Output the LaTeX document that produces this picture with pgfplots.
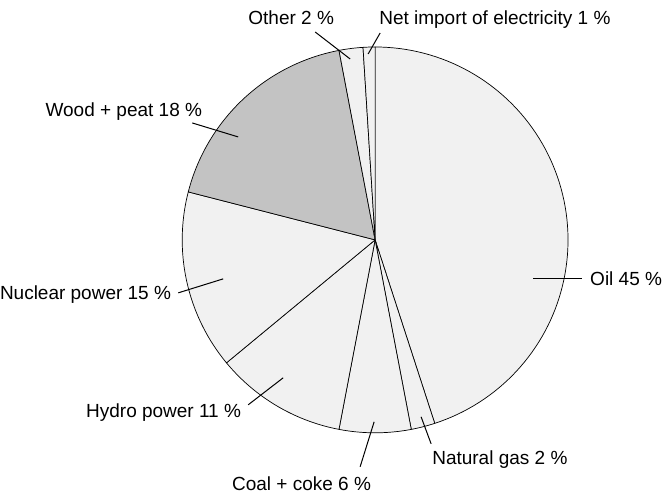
\documentclass[border=0pt]{standalone}
\usepackage{pgfplots}
\pgfplotsset{compat=1.18}
\usepackage{fontspec}
\setmainfont{Liberation Sans}
\definecolor{lite}{HTML}{F1F1F1}
\definecolor{wood}{HTML}{C3C3C3}
% slice: {cumulative start %}{value %}{fill}
\newcommand{\slice}[3]{%
  \pgfmathsetmacro{\aA}{90-3.6*(#1+#2)}%
  \pgfmathsetmacro{\aB}{90-3.6*(#1)}%
  \addplot[draw=black, line width=0.7pt, fill=#3, domain=\aA:\aB, samples=90]
    ({375+193*cos(x)},{257+193*sin(x)}) -- (axis cs:375,257) -- cycle;
}
\tikzset{lab/.style={font=\fontsize{19}{22}\selectfont, inner sep=0pt}}
\begin{document}
\begin{tikzpicture}
\begin{axis}[
  width=665pt, height=497pt, scale only axis,
  xmin=0, xmax=665, ymin=0, ymax=497,
  hide axis, clip=false,
]
\path (axis cs:0,0) (axis cs:665,497);
\slice{0}{45}{lite}   % Oil
\slice{45}{2}{lite}   % Natural gas
\slice{47}{6}{lite}   % Coal + coke
\slice{53}{11}{lite}  % Hydro power
\slice{64}{15}{lite}  % Nuclear power
\slice{79}{18}{wood}  % Wood + peat
\slice{97}{2}{lite}   % Other
\slice{99}{1}{lite}   % Net import
% leader lines
\draw[line width=1pt] (axis cs:533,218) -- (axis cs:582,218);
\draw[line width=1pt] (axis cs:421,80) -- (axis cs:431,53);
\draw[line width=1pt] (axis cs:374,75) -- (axis cs:360,30);
\draw[line width=1pt] (axis cs:283,119) -- (axis cs:248,92);
\draw[line width=1pt] (axis cs:223,218) -- (axis cs:178,204);
\draw[line width=1pt] (axis cs:238,360) -- (axis cs:192,374);
\draw[line width=1pt] (axis cs:350,438) -- (axis cs:315,465);
\draw[line width=1pt] (axis cs:368,443) -- (axis cs:380,464);
% labels
\node[lab, anchor=base west] at (axis cs:590,211) {Oil 45 \%};
\node[lab, anchor=base west] at (axis cs:432,32) {Natural gas 2 \%};
\node[lab, anchor=base east] at (axis cs:371,6) {Coal + coke 6 \%};
\node[lab, anchor=base east] at (axis cs:241,79) {Hydro power 11 \%};
\node[lab, anchor=base east] at (axis cs:171,197) {Nuclear power 15 \%};
\node[lab, anchor=base east] at (axis cs:202,380) {Wood + peat 18 \%};
\node[lab, anchor=base east] at (axis cs:334,472) {Other 2 \%};
\node[lab, anchor=base west] at (axis cs:379,472) {Net import of electricity 1 \%};
\end{axis}
\end{tikzpicture}
\end{document}
